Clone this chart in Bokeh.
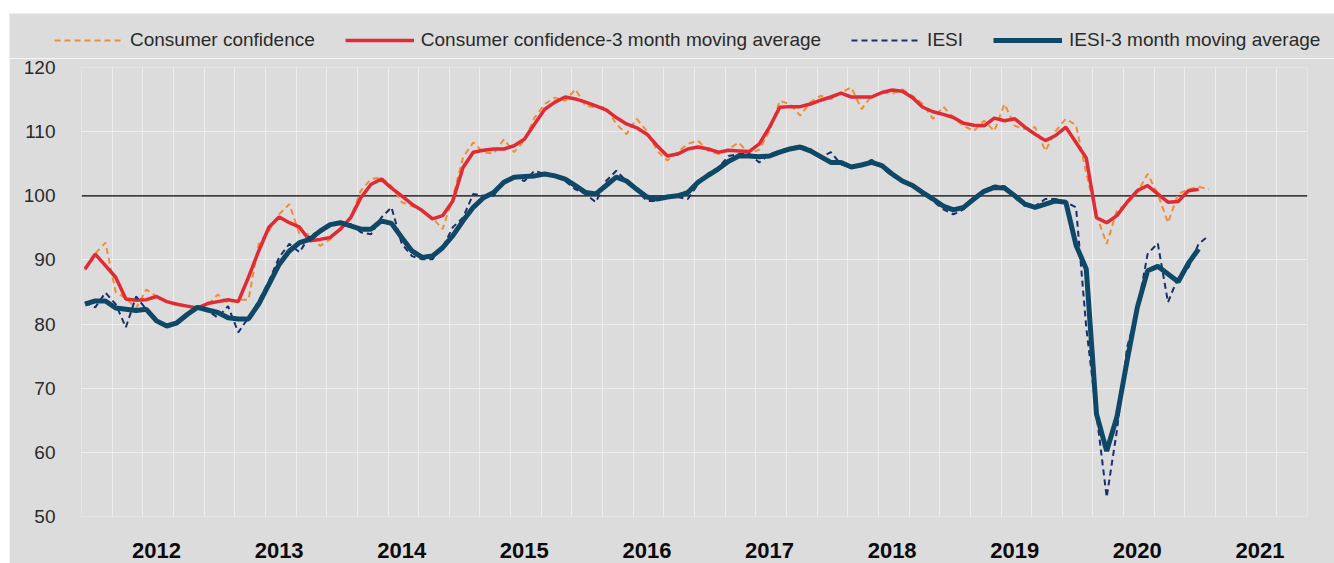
import pandas as pd
from bokeh.plotting import figure
from bokeh.layouts import column, row
from bokeh.models import Range1d, FixedTicker, SingleIntervalTicker, Span, Legend, LegendItem, Spacer
from bokeh.embed import file_html
from bokeh.resources import INLINE

# ---------------- data (monthly, Dec 2011 .. Feb 2021) ----------------
months = pd.date_range("2011-12-01", periods=111, freq="MS")

consumer_confidence = [
    88.4, 91.0, 92.7, 85.0, 84.0, 82.5, 85.4, 84.3, 83.5, 83.0, 82.8, 82.3,
    83.0, 84.6, 83.3, 83.8, 83.8, 92.5, 94.5, 97.1, 98.7, 94.0, 94.0, 92.2,
    93.2, 95.1, 96.6, 100.8, 102.6, 102.9, 101.5, 99.0, 98.4, 97.7, 96.6, 94.8,
    99.7, 106.0, 108.3, 106.8, 106.6, 108.8, 106.8, 108.6, 112.2, 114.3, 115.3, 114.8,
    116.6, 114.0, 113.8, 113.8, 111.2, 109.6, 112.0, 110.1, 107.0, 105.5, 106.8, 108.1,
    108.6, 107.0, 106.5, 107.3, 108.3, 106.5, 107.2, 110.1, 114.8, 114.3, 112.5, 114.6,
    115.6, 115.1, 116.1, 116.9, 113.5, 115.6, 116.1, 115.9, 116.6, 115.6, 114.3, 112.0,
    113.9, 112.2, 110.9, 110.1, 111.7, 110.1, 114.3, 110.9, 110.4, 110.7, 107.0, 110.1,
    112.0, 111.0, 103.5, 97.0, 92.5, 97.7, 98.8, 100.5, 103.4, 100.3, 95.8, 100.3,
    101.0, 101.4, 101.0,
]

consumer_confidence_ma = [
    88.6, 90.9, 89.1, 87.3, 83.9, 83.7, 83.8, 84.3, 83.5, 83.1, 82.8, 82.5,
    83.2, 83.5, 83.8, 83.5, 87.3, 91.4, 95.1, 96.7, 95.8, 95.1, 93.0, 93.2,
    93.5, 94.8, 96.6, 99.7, 101.8, 102.6, 101.2, 100.0, 98.7, 97.7, 96.4, 96.9,
    99.2, 104.4, 106.8, 107.1, 107.3, 107.3, 107.8, 108.8, 111.2, 113.5, 114.6, 115.4,
    115.1, 114.6, 114.0, 113.4, 112.2, 111.2, 110.6, 109.6, 107.8, 106.2, 106.5, 107.3,
    107.6, 107.3, 106.8, 107.1, 107.0, 106.9, 108.1, 110.7, 113.8, 113.9, 113.9, 114.3,
    114.9, 115.4, 116.0, 115.4, 115.4, 115.4, 116.1, 116.5, 116.3, 115.3, 113.8, 113.1,
    112.7, 112.2, 111.3, 111.0, 110.9, 112.1, 111.7, 112.0, 110.7, 109.6, 108.6, 109.4,
    110.7, 108.3, 105.9, 96.6, 95.8, 96.9, 99.0, 100.8, 101.6, 100.3, 99.0, 99.1,
    100.8, 101.0,
]

iesi = [
    83.4, 82.6, 84.9, 83.1, 79.5, 84.3, 82.3, 80.5, 79.6, 80.0, 81.5, 82.8,
    82.1, 81.0, 82.8, 78.7, 81.0, 83.6, 86.7, 90.4, 92.5, 91.2, 93.8, 94.5,
    95.6, 95.9, 95.6, 94.3, 94.0, 96.6, 98.2, 92.5, 90.6, 90.1, 90.1, 91.9,
    95.1, 96.6, 100.3, 100.0, 100.0, 102.3, 103.1, 102.3, 103.9, 103.4, 103.0, 102.3,
    101.0, 100.3, 99.0, 102.3, 103.9, 102.3, 100.8, 99.2, 99.2, 100.0, 99.8, 99.5,
    101.8, 103.5, 104.4, 106.2, 106.5, 106.5, 105.2, 106.5, 107.0, 107.5, 107.8, 107.3,
    106.0, 106.8, 104.9, 104.4, 104.9, 105.6, 104.4, 103.1, 102.3, 101.6, 100.3, 99.2,
    97.9, 97.1, 97.9, 99.7, 100.8, 101.6, 101.5, 99.7, 98.4, 98.4, 99.5, 99.5,
    99.0, 98.2, 79.5, 66.0, 53.0, 63.4, 76.4, 82.1, 90.9, 92.6, 83.4, 87.3,
    88.8, 92.5, 93.8,
]

iesi_ma = [
    83.1, 83.6, 83.6, 82.5, 82.3, 82.1, 82.3, 80.5, 79.7, 80.2, 81.5, 82.6,
    82.2, 81.8, 81.0, 80.8, 80.8, 83.1, 86.2, 89.3, 91.4, 92.7, 93.2, 94.5,
    95.5, 95.8, 95.3, 94.8, 94.8, 96.1, 95.7, 93.5, 91.4, 90.4, 90.6, 91.9,
    93.8, 96.1, 98.2, 99.7, 100.5, 102.1, 102.9, 103.0, 103.1, 103.4, 103.1, 102.6,
    101.6, 100.5, 100.3, 101.6, 102.9, 102.3, 101.0, 99.8, 99.5, 99.8, 100.0, 100.5,
    102.1, 103.2, 104.2, 105.4, 106.2, 106.2, 106.1, 106.2, 106.8, 107.3, 107.6, 107.0,
    106.1, 105.2, 105.2, 104.5, 104.8, 105.2, 104.7, 103.4, 102.3, 101.6, 100.5, 99.5,
    98.4, 97.8, 98.2, 99.5, 100.7, 101.3, 101.2, 100.0, 98.7, 98.2, 98.7, 99.2,
    99.0, 92.3, 88.6, 66.0, 60.2, 65.5, 74.3, 82.6, 88.3, 89.0, 87.8, 86.6,
    89.5, 91.7,
]

year_labels = ["2012", "2013", "2014", "2015", "2016", "2017", "2018", "2019", "2020", "2021"]
series_names = ["Consumer confidence", "Consumer confidence-3 month moving average",
                "IESI", "IESI-3 month moving average"]

# ---------------- styles ----------------
BG = "#dcdcdc"
FONT = "Liberation Sans"
TXT = "#2a2a2a"
styles = [
    dict(line_color="#F28C38", line_width=2, line_dash="6 4"),
    dict(line_color="#E02B35", line_width=3.5),
    dict(line_color="#1B2F6E", line_width=2, line_dash="6 4"),
    dict(line_color="#0E4866", line_width=5),
]

# ---------------- main chart ----------------
xm = list(months.year + (months.month - 1) / 12.0)
x_start = 2011.888
x_end = x_start + 10.0

p = figure(width=1325, height=505, output_backend="svg", toolbar_location=None,
           x_range=Range1d(x_start, x_end), y_range=Range1d(50, 120),
           min_border_left=72, min_border_right=27, min_border_top=9, min_border_bottom=47,
           background_fill_color=BG, border_fill_color=BG, outline_line_color=None)

p.xgrid.ticker = FixedTicker(ticks=[x_start + 0.25 * k for k in range(41)])
p.ygrid.ticker = SingleIntervalTicker(interval=10)
for g in (p.xgrid, p.ygrid):
    g.grid_line_color = "white"
    g.grid_line_width = 1
    g.grid_line_dash = "1 1"
    g.grid_line_alpha = 0.95

p.xaxis.ticker = FixedTicker(ticks=[int(y) + 0.5 for y in year_labels])
p.xaxis.major_label_overrides = {int(y) + 0.5: y for y in year_labels}
p.xaxis.axis_line_color = None
p.xaxis.major_tick_line_color = None
p.xaxis.minor_tick_line_color = None
p.xaxis.major_label_text_font = FONT
p.xaxis.major_label_text_font_style = "bold"
p.xaxis.major_label_text_font_size = "22px"
p.xaxis.major_label_text_color = "#0a0a0a"
p.xaxis.major_label_standoff = 20

p.yaxis.ticker = SingleIntervalTicker(interval=10)
p.yaxis.axis_line_color = None
p.yaxis.major_tick_line_color = None
p.yaxis.minor_tick_line_color = None
p.yaxis.major_label_text_font = FONT
p.yaxis.major_label_text_font_size = "19px"
p.yaxis.major_label_text_color = TXT
p.yaxis.major_label_standoff = 20

p.add_layout(Span(location=100, dimension="width", line_color="black",
                  line_width=1.3, level="underlay"))

series = [consumer_confidence, consumer_confidence_ma, iesi, iesi_ma]
for vals, st in zip(series, styles):
    p.line(xm[:len(vals)], vals, **st)

# ---------------- legend strip ----------------
lg = figure(width=1325, height=45, output_backend="svg", toolbar_location=None,
            x_range=Range1d(0, 1), y_range=Range1d(0, 1),
            x_axis_type=None, y_axis_type=None,
            min_border_left=0, min_border_right=0, min_border_top=0, min_border_bottom=0,
            background_fill_color=BG, border_fill_color=BG, outline_line_color=None)
lg.xgrid.visible = False
lg.ygrid.visible = False
dummies = [lg.line([-5, -4], [-5, -5], **st) for st in styles]
legend = Legend(items=[LegendItem(label=n, renderers=[r]) for n, r in zip(series_names, dummies)],
                orientation="horizontal", location=(45, 7),
                glyph_width=69, glyph_height=20, label_standoff=7, spacing=30,
                padding=0, margin=0, border_line_color=None, background_fill_alpha=0,
                label_text_font=FONT, label_text_font_size="19px", label_text_color=TXT)
lg.add_layout(legend)

layout = column(Spacer(height=13), row(Spacer(width=9), lg), row(Spacer(width=9), p))
open("out.html", "w").write(file_html(layout, INLINE))
